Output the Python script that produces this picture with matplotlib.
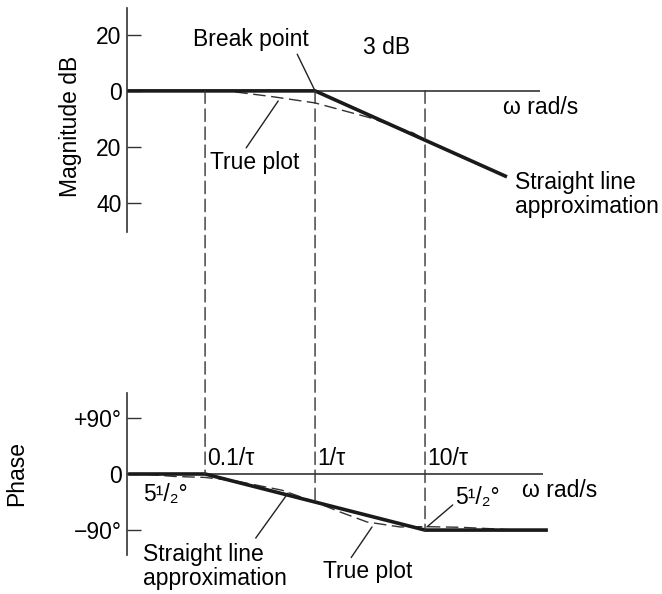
import matplotlib.pyplot as plt
from matplotlib.patches import ConnectionPatch

plt.rcParams['font.family'] = ['Liberation Sans', 'DejaVu Sans']

# normalised frequency omega*tau (log scale)
w_lo, w_hi = 0.0195, 390.0

# magnitude (dB)
mag_straight_w = [0.0195, 1.0, 55.6]
mag_straight_db = [0, 0, -30.7]
mag_true_w = [0.0195, 0.158, 0.415, 1.0, 3.16, 7.78, 10.0]
mag_true_db = [0, 0, -2.1, -4.3, -9.6, -15.0, -17.5]
mag_ticks = [20, 0, -20, -40]
mag_ticklabels = ['20', '0', '20', '40']

# phase (degrees)
ph_straight_w = [0.02, 0.1, 10.0, 131.0]
ph_straight_deg = [0, 0, -90, -90]
ph_true_w = [0.02, 0.0316, 0.0534, 0.1, 0.187, 0.501, 1.0, 1.69, 2.97,
             5.93, 10.0, 20.8, 48.1, 65.8]
ph_true_deg = [0, -1, -4, -5.5, -11, -26, -45, -61, -77, -85, -84.5,
               -85.5, -88.5, -90]
ph_ticks = [90, 0, -90]
ph_ticklabels = ['+90°', '0', '\u221290°']

# break frequencies and where the guide lines end on the phase plot
guide_w = [0.1, 1.0, 10.0]
guide_deg = [0, -45, -90]
guide_labels = ['0.1/\u03c4', '1/\u03c4', '10/\u03c4']

fs = 16.5
solid = dict(color='#1a1a1a', lw=2.6, solid_capstyle='butt')
dashed = dict(color='#333333', lw=1.0, dashes=(9, 4))
axcol = '#333333'
lead = dict(arrowstyle='-', lw=1.0, color='#222222')

fig = plt.figure(figsize=(6.62, 5.94), dpi=100)
ax1 = fig.add_axes([127 / 662, 1 - 232 / 594, 473 / 662, 224 / 594])
ax2 = fig.add_axes([127 / 662, 1 - 555 / 594, 473 / 662, 162 / 594])

for ax in (ax1, ax2):
    ax.set_xscale('log')
    ax.set_xlim(w_lo, w_hi)
    for s in ('top', 'right', 'bottom'):
        ax.spines[s].set_visible(False)
    ax.spines['left'].set_color(axcol)
    ax.spines['left'].set_linewidth(1.2)
    ax.set_xticks([])
    ax.minorticks_off()
    ax.tick_params(axis='x', which='both', length=0, labelbottom=False)
    ax.tick_params(axis='y', direction='in', length=10, width=1.0,
                   color=axcol, pad=4, labelsize=fs)
    ax.patch.set_alpha(0)

# ---- magnitude ----
ax1.set_ylim(-50.4, 29.6)
ax1.set_yticks(mag_ticks)
ax1.set_yticklabels(mag_ticklabels)
ax1.hlines(0, w_lo, 111, color=axcol, lw=1.2)
ax1.plot(mag_true_w, mag_true_db, **dashed)
ax1.plot(mag_straight_w, mag_straight_db, **solid)
ax1.set_ylabel('Magnitude dB', fontsize=fs)
ax1.yaxis.set_label_coords(-0.095, 0.47)

ax1.annotate('Break point', xy=(1.0, 0), xytext=(0.26, 18.2),
             fontsize=fs, ha='center', va='center',
             arrowprops=dict(lead, shrinkA=0, shrinkB=0, relpos=(0.89, 0.0)))
ax1.text(10 ** 0.44, 15.4, '3 dB', fontsize=fs, ha='left', va='center')
ax1.text(10 ** 1.71, -6.1, '\u03c9 rad/s', fontsize=fs, ha='left', va='center')
ax1.text(10 ** 1.82, -37, 'Straight line\napproximation', fontsize=fs,
         ha='left', va='center', linespacing=1.05)
ax1.annotate('True plot', xy=(10 ** -0.335, -3.6), xytext=(10 ** -0.545, -25.7),
             fontsize=fs, ha='center', va='center',
             arrowprops=dict(lead, shrinkA=0, shrinkB=0, relpos=(0.4, 1.15)))

# ---- phase ----
ax2.set_ylim(-130, 130)
ax2.set_yticks(ph_ticks)
ax2.set_yticklabels(ph_ticklabels)
ax2.hlines(0, w_lo, 118, color=axcol, lw=1.2)
ax2.plot(ph_true_w, ph_true_deg, **dashed)
ax2.plot(ph_straight_w, ph_straight_deg, **solid)
ax2.set_ylabel('Phase', fontsize=fs)
ax2.yaxis.set_label_coords(-0.209, 0.5)

for w, d, lab in zip(guide_w, guide_deg, guide_labels):
    con = ConnectionPatch(xyA=(w, 0), coordsA=ax1.transData,
                          xyB=(w, d), coordsB=ax2.transData,
                          color='#333333', lw=1.0, linestyle=(0, (9, 4)))
    fig.add_artist(con)
    ax2.text(w * 1.04, 25, lab, fontsize=fs, ha='left', va='center')

ax2.text(10 ** -1.56, -33.7, '5\u00b9/\u2082°', fontsize=fs, ha='left',
         va='center')
ax2.text(10 ** 1.88, -25.7, '\u03c9 rad/s', fontsize=fs, ha='left',
         va='center')
ax2.annotate('5\u00b9/\u2082°', xy=(10.4, -85), xytext=(10 ** 1.48, -38.5),
             fontsize=fs, ha='center', va='center',
             arrowprops=dict(lead, shrinkA=0, shrinkB=0, relpos=(0.0, 0.3)))
ax2.annotate('Straight line\napproximation', xy=(10 ** -0.245, -30.5),
             xytext=(10 ** -1.56, -148), fontsize=fs, ha='left', va='center',
             linespacing=1.05, annotation_clip=False,
             arrowprops=dict(lead, shrinkA=0, shrinkB=0, relpos=(0.78, 1.1)))
ax2.annotate('True plot', xy=(10 ** 0.518, -85), xytext=(10 ** 0.48, -157),
             fontsize=fs, ha='center', va='center', annotation_clip=False,
             arrowprops=dict(lead, shrinkA=0, shrinkB=0, relpos=(0.31, 1.1)))

fig.savefig('out.png', dpi=100)
